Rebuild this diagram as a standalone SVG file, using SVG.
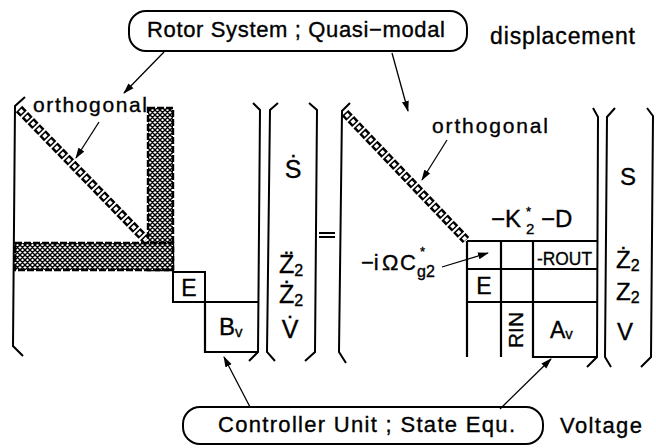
<svg xmlns="http://www.w3.org/2000/svg" width="656" height="448" viewBox="0 0 656 448">
<defs>
<pattern id="xh" patternUnits="userSpaceOnUse" width="5" height="5">
<rect width="5" height="5" fill="#fff"/>
<path d="M-1,1 L1,-1 M0,5 L5,0 M4,6 L6,4 M-1,4 L1,6 M0,0 L5,5 M4,-1 L6,1" stroke="#000" stroke-width="1.4"/>
</pattern>
<marker id="ah" markerUnits="userSpaceOnUse" markerWidth="11" markerHeight="8" refX="10" refY="4" orient="auto">
<path d="M0,0.5 L11,4 L0,7.5 z" fill="#000"/>
</marker>
</defs>
<style>
.t{font-family:"Liberation Sans",Arial,sans-serif;fill:#000;stroke:#000;stroke-width:0.35}
.ln{stroke:#000;stroke-width:2.2;fill:none}
.br{stroke:#000;stroke-width:2;fill:none;stroke-linejoin:miter}
.bx{stroke:#000;stroke-width:2;fill:none}
.con{stroke:#000;stroke-width:1.3;fill:none;marker-end:url(#ah)}
.chb{stroke:#000;stroke-width:9;stroke-dasharray:6.5 2}
.chw{stroke:#fff;stroke-width:4;stroke-dasharray:3.5 5;stroke-dashoffset:-1.5}
.band{fill:url(#xh);stroke:#000;stroke-width:2.4;stroke-dasharray:7 2}
</style>

<g id="label-rotor">
<rect x="129" y="11" width="338" height="40" rx="17" class="bx"/>
<text x="147" y="37" class="t" font-size="22" textLength="298" lengthAdjust="spacing">Rotor System ; Quasi−modal</text>
</g>
<text id="label-displacement" x="490" y="44" class="t" font-size="23" textLength="145" lengthAdjust="spacing">displacement</text>

<g id="left-matrix">
<path d="M25,97 L15,106 L13,346 L23,356" class="br"/>
<path d="M253,103 L260,110 L258,352 L249,361" class="br"/>
<rect x="148" y="108" width="25" height="162" class="band"/>
<rect x="15" y="243" width="158" height="27" class="band"/>
<line x1="19" y1="109" x2="146" y2="240" class="chb"/>
<line x1="19" y1="109" x2="146" y2="240" class="chw"/>
<rect x="173" y="272" width="32" height="30" class="bx"/>
<text x="189" y="296" class="t" font-size="23" text-anchor="middle">E</text>
<path d="M205,302 L258,302 M205,302 L205,352 L258,352" class="ln"/>
<text x="219" y="335" class="t" font-size="24">B<tspan font-size="15" dy="2">v</tspan></text>
<text x="33" y="112" class="t" font-size="21" textLength="114" lengthAdjust="spacing">orthogonal</text>
</g>

<g id="left-vector">
<path d="M278,103 L270,110 L267,352 L275,361" class="br"/>
<path d="M309,103 L317,110 L315,352 L305,361" class="br"/>
<text x="293" y="178" class="t" font-size="25" text-anchor="middle">Ṡ</text>
<text x="279" y="273" class="t" font-size="25">Z̈<tspan font-size="16" dy="3">2</tspan></text>
<text x="279" y="303" class="t" font-size="25">Ż<tspan font-size="16" dy="3">2</tspan></text>
<text x="290" y="338" class="t" font-size="25" text-anchor="middle">V̇</text>
</g>

<g id="equals">
<path d="M319,233 L335,233 M319,237 L335,237" stroke="#000" stroke-width="1.8"/>
</g>

<g id="right-matrix">
<path d="M350,103 L342,111 L339,352 L346,363" class="br"/>
<path d="M593,108 L598,117 L597,357 L587,367" class="br"/>
<line x1="345" y1="113" x2="466" y2="240" class="chb"/>
<line x1="345" y1="113" x2="466" y2="240" class="chw"/>
<path d="M467,241 L597,241 M467,269 L597,269 M467,302 L597,302 M467,241 L467,357 M501,241 L501,357 M533,241 L533,357 L597,357" class="ln"/>
<text x="537" y="265" class="t" font-size="18" textLength="55" lengthAdjust="spacingAndGlyphs">-ROUT</text>
<text x="484" y="294" class="t" font-size="23" text-anchor="middle">E</text>
<text transform="translate(523,348) rotate(-90)" class="t" font-size="21" textLength="36" lengthAdjust="spacingAndGlyphs">RIN</text>
<text x="550" y="338" class="t" font-size="23">A<tspan font-size="15" dy="1">v</tspan></text>
<text x="491" y="227" class="t" font-size="24">−K</text>
<text x="526" y="234" class="t" font-size="15">2</text>
<text x="526" y="216" class="t" font-size="13">*</text>
<text x="541" y="227" class="t" font-size="24">−D</text>
<text x="361" y="270" class="t" font-size="22">−i</text>
<text x="382" y="270" class="t" font-size="22">Ω</text>
<text x="400" y="270" class="t" font-size="22">C</text>
<text x="420" y="256" class="t" font-size="13">*</text>
<text x="417" y="277" class="t" font-size="16">g2</text>
<text x="432" y="133" class="t" font-size="21" textLength="116" lengthAdjust="spacing">orthogonal</text>
</g>

<g id="right-vector">
<path d="M615,108 L607,117 L605,357 L611,367" class="br"/>
<path d="M647,108 L653,116 L651,357 L641,367" class="br"/>
<text x="628" y="185" class="t" font-size="24" text-anchor="middle">S</text>
<text x="616" y="268" class="t" font-size="24">Ż<tspan font-size="16" dy="3">2</tspan></text>
<text x="616" y="300" class="t" font-size="24">Z<tspan font-size="16" dy="3">2</tspan></text>
<text x="625" y="340" class="t" font-size="24" text-anchor="middle">V</text>
</g>

<g id="label-controller">
<rect x="183" y="407" width="360" height="37" rx="17" class="bx"/>
<text x="218" y="432" class="t" font-size="22" textLength="297" lengthAdjust="spacing">Controller Unit ;  State Equ.</text>
</g>
<text id="label-voltage" x="560" y="433" class="t" font-size="22" textLength="82" lengthAdjust="spacing">Voltage</text>

<g id="connectors">
<line x1="164" y1="52" x2="124" y2="93" class="con"/>
<line x1="392" y1="53" x2="408" y2="111" class="con"/>
<line x1="99" y1="122" x2="76" y2="158" class="con"/>
<line x1="447" y1="140" x2="422" y2="180" class="con"/>
<line x1="442" y1="267" x2="488" y2="253" class="con"/>
<line x1="250" y1="407" x2="224" y2="357" class="con"/>
<line x1="500" y1="409" x2="551" y2="359" class="con"/>
</g>
</svg>
